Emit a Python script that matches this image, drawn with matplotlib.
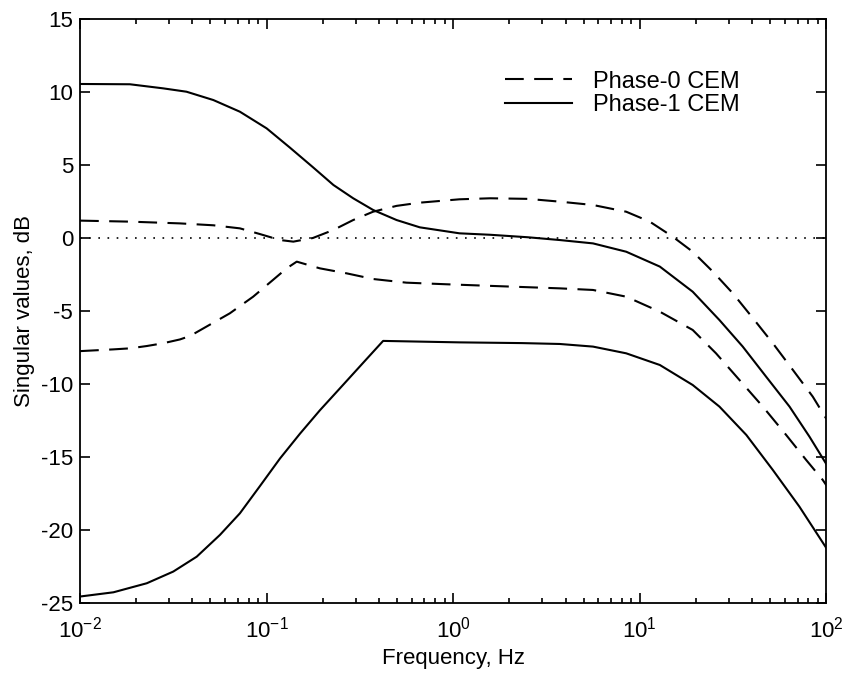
import numpy as np
import matplotlib
matplotlib.use('Agg')
import matplotlib.pyplot as plt

plt.rcParams['font.family'] = ['Liberation Sans', 'DejaVu Sans']
plt.rcParams['mathtext.fontset'] = 'custom'
plt.rcParams['mathtext.rm'] = 'Liberation Sans'
plt.rcParams['axes.unicode_minus'] = False

# Phase-0 CEM, верхнее сингулярное значение (частота, Гц / дБ)
f_p0_up = [0.01, 0.0185, 0.0343, 0.0518, 0.0719, 0.092, 0.118, 0.139, 0.177, 0.228,
           0.291, 0.372, 0.497, 0.662, 1.08, 1.58, 2.51, 3.72, 5.61, 8.45,
           11.3, 15.0, 19.2, 24.6, 31.5, 40.4, 51.6, 66.1, 84.5, 100]
p0_up = [1.19, 1.12, 1.0, 0.87, 0.66, 0.27, -0.14, -0.25, 0.0, 0.55,
         1.23, 1.8, 2.2, 2.42, 2.65, 2.72, 2.68, 2.49, 2.26, 1.8,
         1.12, 0.09, -0.94, -2.3, -3.79, -5.5, -7.21, -9.04, -10.87, -12.4]

# Phase-0 CEM, нижнее
f_p0_low = [0.01, 0.0151, 0.0185, 0.0228, 0.0279, 0.0343, 0.0389, 0.0476, 0.0635, 0.0847,
            0.108, 0.128, 0.145, 0.193, 0.268, 0.372, 0.561, 0.918, 1.58, 3.72,
            5.61, 8.45, 12.8, 19.2, 25.6, 34.2, 45.6, 60.8, 77.8, 95.5, 100]
p0_low = [-7.75, -7.63, -7.56, -7.4, -7.21, -6.95, -6.71, -6.07, -5.16, -4.02,
          -2.88, -2.08, -1.62, -2.08, -2.42, -2.81, -3.06, -3.17, -3.28, -3.45,
          -3.56, -4.02, -5.05, -6.3, -7.9, -9.73, -11.55, -13.49, -15.2, -16.57, -16.95]

# Phase-1 CEM, верхнее
f_p1_up = [0.01, 0.0185, 0.0279, 0.0372, 0.0518, 0.0719, 0.1, 0.133, 0.177, 0.228,
           0.291, 0.372, 0.497, 0.662, 1.08, 1.58, 2.51, 3.72, 5.61, 8.45,
           12.8, 19.2, 26.7, 35.6, 47.5, 63.4, 81.1, 100]
p1_up = [10.55, 10.53, 10.25, 10.02, 9.45, 8.65, 7.51, 6.2, 4.85, 3.63,
         2.72, 1.92, 1.23, 0.73, 0.32, 0.22, 0.05, -0.14, -0.37, -0.94,
         -1.96, -3.68, -5.62, -7.44, -9.5, -11.55, -13.61, -15.5]

# Phase-1 CEM, нижнее
f_p1_low = [0.01, 0.0151, 0.0228, 0.0316, 0.0422, 0.0562, 0.0719, 0.092, 0.118, 0.151,
            0.193, 0.247, 0.329, 0.421, 1.08, 2.34, 3.72, 5.61, 8.45, 12.8,
            19.2, 26.7, 37.2, 51.6, 71.6, 100]
p1_low = [-24.56, -24.27, -23.65, -22.85, -21.83, -20.34, -18.86, -17.0, -15.1, -13.4,
          -11.8, -10.3, -8.55, -7.05, -7.15, -7.2, -7.26, -7.44, -7.9, -8.7,
          -10.07, -11.55, -13.49, -15.89, -18.4, -21.25]

fig = plt.figure(figsize=(8.55, 6.79), dpi=100)
ax = fig.add_axes([0.0936, 0.112, 0.873, 0.86])

dash = (0, (9, 5))
ax.plot(f_p0_up, p0_up, color='black', lw=1.5, linestyle=dash, label='Phase-0 CEM')
ax.plot(f_p1_up, p1_up, color='black', lw=1.5, label='Phase-1 CEM')
ax.plot(f_p0_low, p0_low, color='black', lw=1.5, linestyle=dash)
ax.plot(f_p1_low, p1_low, color='black', lw=1.5)
ax.axhline(0, color='black', lw=1.2, linestyle=(0, (1, 4.5)))

ax.set_xscale('log')
ax.set_xlim(1e-2, 1e2)
ax.set_ylim(-25, 15)
ax.set_yticks(np.arange(-25, 16, 5))

ax.tick_params(which='both', direction='in', top=True, right=True, labelsize=16, width=1.2)
ax.tick_params(which='major', length=7, pad=5)
ax.tick_params(axis='x', which='major', pad=10)
ax.tick_params(which='minor', length=3.5)
for s in ax.spines.values():
    s.set_linewidth(1.3)

ax.set_xlabel('Frequency, Hz', fontsize=16, labelpad=4)
ax.set_ylabel('Singular values, dB', fontsize=16)

ax.legend(loc='upper right', bbox_to_anchor=(0.912, 0.948), frameon=False, fontsize=17,
          handlelength=2.8, handletextpad=0.9, labelspacing=0.05)

fig.savefig('out.png', dpi=100)
